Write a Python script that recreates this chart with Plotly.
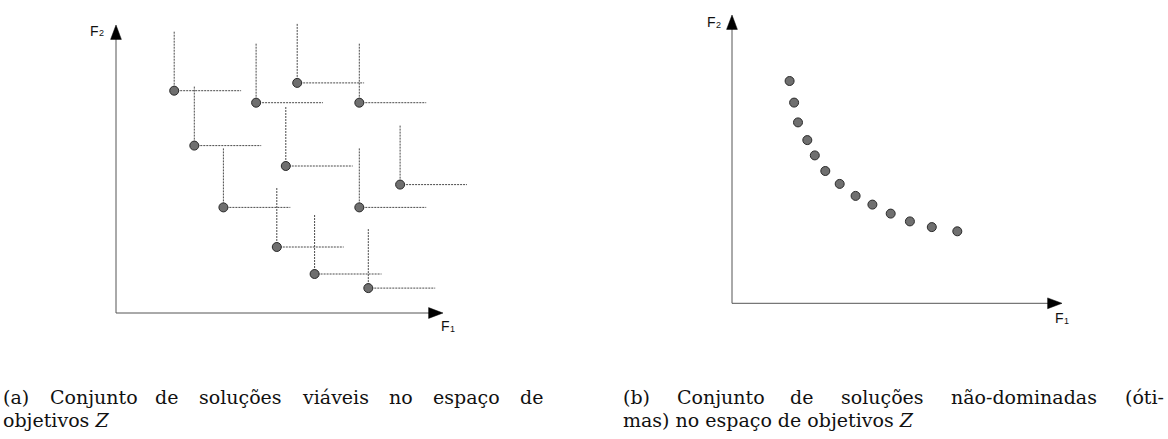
import plotly.graph_objects as go

# Panel (a): feasible solutions in the objective space (F1, F2)
feasible_f1 = [1.94, 2.61, 3.58, 4.67, 5.66, 5.36, 6.04, 6.62, 8.11, 8.11, 9.47, 8.41]
feasible_f2 = [7.41, 5.58, 3.52, 7.01, 4.90, 2.20, 7.67, 1.30, 7.01, 3.52, 4.28, 0.83]

# Panel (b): non-dominated (Pareto-optimal) solutions
pareto_f1 = [1.92, 2.07, 2.20, 2.51, 2.76, 3.11, 3.59, 4.12, 4.68, 5.29, 5.93, 6.66, 7.51]
pareto_f2 = [7.41, 6.69, 6.03, 5.44, 4.93, 4.41, 3.98, 3.58, 3.29, 2.99, 2.73, 2.54, 2.40]

# Captions: first line of each is justified to the column width
caption_a = ["(a) Conjunto de soluções viáveis no espaço de", "objetivos <i>Z</i>"]
caption_b = ["(b) Conjunto de soluções não-dominadas (óti-", "mas) no espaço de objetivos <i>Z</i>"]

W, H = 1168, 439
PX_PER_UNIT = 30.0
PAD = 15  # room left/below the origin for the arrow heads

# Extent of the dashed "dominance" guides drawn from each feasible point
REACH_F1 = 2.23
REACH_F2 = 2.0


def px_box(ox, oy, right, top):
    """Domain (paper) and range (data) for an axis pair whose origin sits at pixel (ox, oy)."""
    left, bottom = ox - PAD, oy + PAD
    xdom = [left / W, right / W]
    ydom = [(H - bottom) / H, (H - top) / H]
    xr = [-PAD / PX_PER_UNIT, (right - ox) / PX_PER_UNIT]
    yr = [-PAD / PX_PER_UNIT, (oy - top) / PX_PER_UNIT]
    return xdom, ydom, xr, yr


xa_dom, ya_dom, xa_rng, ya_rng = px_box(116, 313, 472, 15)
xb_dom, yb_dom, xb_rng, yb_rng = px_box(732, 303.3, 1075, 8)

fig = go.Figure()

# Dashed guides: up (F2 direction) and right (F1 direction) of every point
gx, gy = [], []
for f1, f2 in zip(feasible_f1, feasible_f2):
    gx += [f1, f1, None, f1, f1 + REACH_F1, None]
    gy += [f2, f2 + REACH_F2, None, f2, f2, None]
fig.add_trace(go.Scatter(
    x=gx, y=gy, mode="lines", xaxis="x", yaxis="y",
    line=dict(color="#4a4a4a", width=1, dash="2px,1px"),
    hoverinfo="skip", showlegend=False,
))

marker_style = dict(symbol="circle", size=9, color="#6f6f6f",
                    line=dict(color="#2a2a2a", width=1))

fig.add_trace(go.Scatter(
    x=feasible_f1, y=feasible_f2, mode="markers", xaxis="x", yaxis="y",
    marker=marker_style, showlegend=False,
))
fig.add_trace(go.Scatter(
    x=pareto_f1, y=pareto_f2, mode="markers", xaxis="x2", yaxis="y2",
    marker=marker_style, showlegend=False,
))

hidden = dict(visible=False, fixedrange=True)
fig.update_layout(
    width=W, height=H,
    margin=dict(l=0, r=0, t=0, b=0),
    paper_bgcolor="white", plot_bgcolor="rgba(0,0,0,0)",
    showlegend=False,
    xaxis=dict(domain=xa_dom, range=xa_rng, anchor="y", **hidden),
    yaxis=dict(domain=ya_dom, range=ya_rng, anchor="x", **hidden),
    xaxis2=dict(domain=xb_dom, range=xb_rng, anchor="y2", **hidden),
    yaxis2=dict(domain=yb_dom, range=yb_rng, anchor="x2", **hidden),
)

# Axes drawn as plain lines with filled arrow heads
HEAD_LEN = 0.48
HEAD_HALF = 0.18
axes_tips = [("x", "y", 10.9, 9.6), ("x2", "y2", 11.0, 9.61)]
for xr_, yr_, xtip, ytip in axes_tips:
    fig.add_shape(type="line", xref=xr_, yref=yr_, x0=0, y0=0, x1=xtip - 0.2, y1=0,
                  line=dict(color="#555555", width=1))
    fig.add_shape(type="line", xref=xr_, yref=yr_, x0=0, y0=0, x1=0, y1=ytip - 0.2,
                  line=dict(color="#555555", width=1))
    fig.add_shape(type="path", xref=xr_, yref=yr_,
                  path=f"M {xtip},0 L {xtip - HEAD_LEN},{HEAD_HALF} L {xtip - HEAD_LEN},{-HEAD_HALF} Z",
                  fillcolor="black", line=dict(color="black", width=0.5))
    fig.add_shape(type="path", xref=xr_, yref=yr_,
                  path=f"M 0,{ytip} L {HEAD_HALF},{ytip - HEAD_LEN} L {-HEAD_HALF},{ytip - HEAD_LEN} Z",
                  fillcolor="black", line=dict(color="black", width=0.5))


def px_annot(text, x, y, size, family, xanchor="center", yanchor="middle"):
    fig.add_annotation(
        text=text, xref="paper", yref="paper", x=x / W, y=(H - y) / H,
        xanchor=xanchor, yanchor=yanchor, showarrow=False, borderpad=0,
        font=dict(family=family, size=size, color="#111111"),
    )


# Axis names: "F" with a small subscript index
sans = "Liberation Sans, Arial, sans-serif"
for x, y, idx in [(94, 31, "2"), (445, 326, "1"), (711, 22, "2"), (1059, 318, "1")]:
    px_annot("F", x, y, 14, sans)
    px_annot(idx, x + 7.5, y + 2.5, 9, sans)

# Approximate advance widths (in em) of the serif caption font, used to justify lines
EM = {
    "a": .613, "b": .635, "c": .550, "d": .635, "e": .615, "f": .352, "g": .635,
    "h": .634, "i": .278, "j": .278, "k": .579, "l": .278, "m": .974, "n": .634,
    "o": .612, "p": .635, "q": .635, "r": .411, "s": .521, "t": .392, "u": .634,
    "v": .592, "w": .818, "x": .592, "y": .592, "z": .525, "(": .390, ")": .390,
    "C": .698, "Z": .685, "-": .361, "ç": .550, "õ": .612, "ã": .613, "á": .613,
    "ó": .612,
}


def word_width(word, size):
    return sum(EM.get(ch, .6) for ch in word) * size


serif = "DejaVu Serif, serif"
CAP_SIZE = 19


def justified(line, x0, x1, y):
    words = line.split(" ")
    widths = [word_width(w, CAP_SIZE) for w in words]
    gap = (x1 - x0 - sum(widths)) / (len(words) - 1)
    x = x0
    for w, wd in zip(words, widths):
        px_annot(w, x, y, CAP_SIZE, serif, xanchor="left")
        x += wd + gap


LINE1_Y, LINE2_Y = 397, 420
justified(caption_a[0], 2, 543, LINE1_Y)
px_annot(caption_a[1], 2, LINE2_Y, CAP_SIZE, serif, xanchor="left")
justified(caption_b[0], 622, 1163, LINE1_Y)
px_annot(caption_b[1], 622, LINE2_Y, CAP_SIZE, serif, xanchor="left")

fig.write_html("out.html")
